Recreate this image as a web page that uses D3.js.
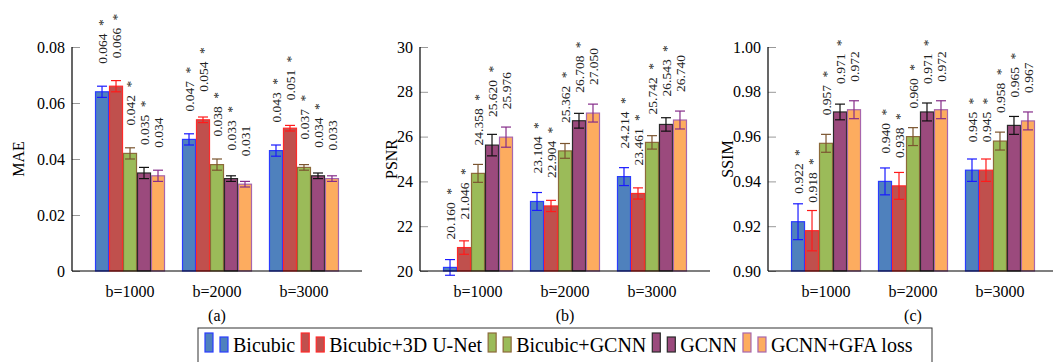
<!DOCTYPE html>
<html>
<head>
<meta charset="utf-8">
<script src="https://cdn.jsdelivr.net/npm/d3@7"></script>
<style>
	body { margin: 0; background: #fff; }
	svg { display: block; font-family: "Liberation Serif", "Times New Roman", serif; }
</style>
</head>
<body>
<svg id="chart" width="1053" height="362"></svg>
<script>

// categories and series
const groups = ["b=1000", "b=2000", "b=3000"];
const methods = ["Bicubic", "Bicubic+3D U-Net", "Bicubic+GCNN", "GCNN", "GCNN+GFA loss"];
const starred = [true, true, true, true, false];

// MAE (rows = methods, cols = groups)
const maeValues = [
	[0.064, 0.047, 0.043],
	[0.066, 0.054, 0.051],
	[0.042, 0.038, 0.037],
	[0.035, 0.033, 0.034],
	[0.034, 0.031, 0.033]
];
const maeErrors = [
	[0.002, 0.002, 0.002],
	[0.002, 0.001, 0.001],
	[0.002, 0.002, 0.001],
	[0.002, 0.001, 0.001],
	[0.002, 0.001, 0.001]
];

// PSNR
const psnrValues = [
	[20.160, 23.104, 24.214],
	[21.046, 22.904, 23.461],
	[24.358, 25.362, 25.742],
	[25.620, 26.708, 26.543],
	[25.976, 27.050, 26.740]
];
const psnrErrors = [
	[0.35, 0.40, 0.40],
	[0.30, 0.25, 0.25],
	[0.40, 0.33, 0.30],
	[0.48, 0.33, 0.30],
	[0.45, 0.40, 0.40]
];

// SSIM
const ssimValues = [
	[0.922, 0.940, 0.945],
	[0.918, 0.938, 0.945],
	[0.957, 0.960, 0.958],
	[0.971, 0.971, 0.965],
	[0.972, 0.972, 0.967]
];
const ssimErrors = [
	[0.008, 0.006, 0.005],
	[0.009, 0.006, 0.005],
	[0.004, 0.004, 0.004],
	[0.0035, 0.004, 0.004],
	[0.004, 0.004, 0.004]
];

// tick labels
const maeTicks = [0, 0.02, 0.04, 0.06, 0.08];
const psnrTicks = [20, 22, 24, 26, 28, 30];
const ssimTicks = [0.90, 0.92, 0.94, 0.96, 0.98, 1.00];

const fills = ["#4f81bd", "#c0504d", "#9bbb59", "#9b4a7d", "#fdac5f"];
const strokes = ["#2a3cff", "#ff2a2a", "#8c6a3a", "#2a2a2a", "#a766ad"];
const errColors = ["#1a1aff", "#ff1a1a", "#7b5530", "#111111", "#862d8a"];

const svg = d3.select("#chart");

function drawPanel(cfg) {
	const g = svg.append("g");

	const x = d3.scalePoint()
		.domain(groups)
		.range(cfg.xRange)
		.padding(0.667);

	const inner = d3.scaleBand()
		.domain(d3.range(methods.length))
		.range([-34.5, 34.5])
		.paddingInner(0.07);

	const y = d3.scaleLinear()
		.domain(cfg.yDomain)
		.range([271, 47]);

	// y axis: ticks inside, grey
	const yAxis = d3.axisRight(y)
		.tickValues(cfg.ticks)
		.tickFormat(cfg.tickFormat)
		.tickSize(8);
	const ya = g.append("g")
		.attr("transform", "translate(" + cfg.xRange[0] + ",0)")
		.call(yAxis);
	ya.select(".domain").remove();
	ya.selectAll(".tick line").attr("stroke", "#999").attr("stroke-width", 1);
	ya.selectAll(".tick text")
		.attr("x", -7)
		.attr("text-anchor", "end")
		.attr("fill", "#000")
		.style("font-size", "16px")
		.style("font-family", "Liberation Serif");

	// bars
	const data = [];
	methods.forEach((m, i) => {
		groups.forEach((grp, j) => {
			data.push({m: i, grp: grp, v: cfg.values[i][j], e: cfg.errors[i][j]});
		});
	});

	g.selectAll(".bar")
		.data(data)
		.enter()
		.append("rect")
		.classed("bar", true)
		.attr("x", d => x(d.grp) + inner(d.m))
		.attr("width", inner.bandwidth())
		.attr("y", d => y(d.v))
		.attr("height", d => y(cfg.yDomain[0]) - y(d.v))
		.style("fill", d => fills[d.m])
		.style("stroke", d => strokes[d.m])
		.style("stroke-width", 1.2);

	// error bars
	const eb = g.selectAll(".err")
		.data(data)
		.enter()
		.append("g")
		.classed("err", true)
		.attr("transform", d => "translate(" + (x(d.grp) + inner(d.m) + inner.bandwidth() / 2) + ",0)")
		.style("stroke", d => errColors[d.m])
		.style("stroke-width", 1.2);
	eb.append("line")
		.attr("y1", d => y(d.v + d.e))
		.attr("y2", d => y(d.v - d.e));
	eb.append("line")
		.attr("x1", -5).attr("x2", 5)
		.attr("y1", d => y(d.v + d.e)).attr("y2", d => y(d.v + d.e));
	eb.append("line")
		.attr("x1", -5).attr("x2", 5)
		.attr("y1", d => y(d.v - d.e)).attr("y2", d => y(d.v - d.e));

	// value labels
	const lbl = g.selectAll(".vlabel")
		.data(data)
		.enter()
		.append("text")
		.classed("vlabel", true)
		.attr("transform", d => "translate(" + (x(d.grp) + inner(d.m) + inner.bandwidth() / 2) + "," + (y(d.v) - 28) + ") rotate(-90)")
		.attr("dy", "0.35em")
		.attr("text-anchor", "start")
		.attr("fill", "#222")
		.style("font-size", "13.5px")
		.text(d => d3.format(".3f")(d.v));
	lbl.filter(d => starred[d.m])
		.append("tspan")
		.attr("dx", "0.55em")
		.text("*");

	// x axis line
	g.append("line")
		.attr("x1", cfg.xRange[0]).attr("x2", cfg.xRange[1])
		.attr("y1", 271).attr("y2", 271)
		.attr("stroke", "#000").attr("stroke-width", 1.2);
	g.append("line")
		.attr("x1", cfg.xRange[0]).attr("x2", cfg.xRange[0])
		.attr("y1", 271).attr("y2", 47)
		.attr("stroke", "#000").attr("stroke-width", 1.2);

	// category labels
	g.selectAll(".cat")
		.data(groups)
		.enter()
		.append("text")
		.classed("cat", true)
		.attr("x", d => x(d))
		.attr("y", 297)
		.attr("text-anchor", "middle")
		.style("font-size", "16px")
		.text(d => d);

	// y label
	g.append("text")
		.attr("transform", "translate(" + cfg.labelX + ",159) rotate(-90)")
		.attr("text-anchor", "middle")
		.style("font-size", "16px")
		.text(cfg.label);

	// caption
	g.append("text")
		.attr("x", (cfg.xRange[0] + cfg.xRange[1]) / 2)
		.attr("y", 321)
		.attr("text-anchor", "middle")
		.style("font-size", "16px")
		.text(cfg.caption);
}

drawPanel({
	xRange: [72, 362], yDomain: [0, 0.08], ticks: maeTicks,
	tickFormat: d => d === 0 ? "0" : d3.format(".2f")(d),
	values: maeValues, errors: maeErrors, label: "MAE", labelX: 23.5, caption: "(a)"
});
drawPanel({
	xRange: [420, 710], yDomain: [20, 30], ticks: psnrTicks,
	tickFormat: d3.format("d"),
	values: psnrValues, errors: psnrErrors, label: "PSNR", labelX: 397, caption: "(b)"
});
drawPanel({
	xRange: [768, 1058], yDomain: [0.9, 1.0], ticks: ssimTicks,
	tickFormat: d3.format(".2f"),
	values: ssimValues, errors: ssimErrors, label: "SSIM", labelX: 733, caption: "(c)"
});

// legend
const legend = svg.append("g");
legend.append("rect")
	.attr("x", 198).attr("y", 328)
	.attr("width", 734).attr("height", 40)
	.style("fill", "none")
	.style("stroke", "#333")
	.style("stroke-width", 1);

let lx = 205;
methods.forEach((m, i) => {
	legend.append("rect")
		.attr("x", lx).attr("y", 333)
		.attr("width", 8).attr("height", 19)
		.style("fill", fills[i]).style("stroke", strokes[i]).style("stroke-width", 1.2);
	legend.append("rect")
		.attr("x", lx + 15).attr("y", 337)
		.attr("width", 8).attr("height", 15)
		.style("fill", fills[i]).style("stroke", strokes[i]).style("stroke-width", 1.2);
	const t = legend.append("text")
		.attr("x", lx + 28).attr("y", 352)
		.style("font-size", "20px")
		.text(m);
	lx += 28 + t.node().getComputedTextLength() + 6;
});

</script>
</body>
</html>
